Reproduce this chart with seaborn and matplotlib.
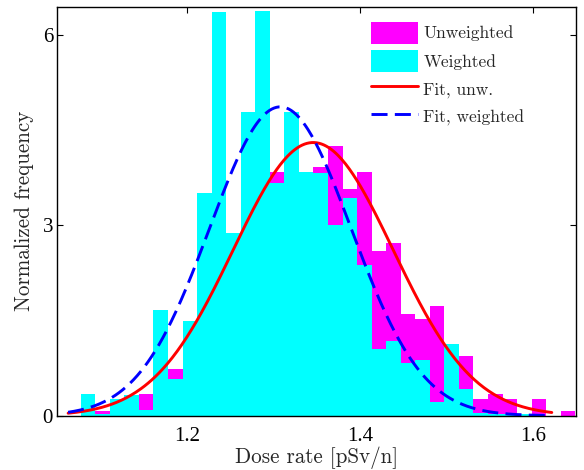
import numpy as np
import pandas as pd
import seaborn as sns
import matplotlib
matplotlib.use("Agg")
import matplotlib.pyplot as plt
from matplotlib.patches import Patch
from matplotlib.lines import Line2D

# ---- data ----
bin_start = 1.0771
bin_width = 0.016825
unweighted = [0.00, 0.074, 0.27, 0.15, 0.34, 0.60, 0.74, 1.20, 2.00, 3.00,
              2.30, 3.30, 3.50, 3.85, 3.60, 3.70, 3.92, 4.25, 3.58, 3.85,
              2.59, 2.72, 1.60, 1.53, 1.73, 0.90, 0.94, 0.26, 0.34, 0.26,
              0.00, 0.26, 0.00, 0.07]
weighted = [0.35, 0.03, 0.26, 0.33, 0.095, 1.66, 0.58, 1.50, 3.51, 6.36,
            2.88, 4.79, 6.39, 3.67, 4.79, 3.85, 3.82, 3.01, 3.44, 2.38,
            1.05, 1.18, 0.83, 0.88, 0.21, 1.13, 0.42, 0.05, 0.03, 0.02,
            0.02, 0.00, 0.00, 0.00]
fit_mu_unw, fit_sigma_unw = 1.346, 0.0926
fit_mu_w, fit_sigma_w = 1.308, 0.0819
fit_range = (1.0625, 1.622)
labels = ["Unweighted", "Weighted", "Fit, unw.", "Fit, weighted"]
x_ticks = [1.2, 1.4, 1.6]
y_ticks = [0, 3, 6]
x_label = "Dose rate [pSv/n]"
y_label = "Normalized frequency"

# ---- derived tables ----
nb = len(unweighted)
edges = (bin_start + bin_width * np.arange(nb + 1)).tolist()
centers = [0.5 * (edges[i] + edges[i + 1]) for i in range(nb)]
hist_df = pd.DataFrame({"x": centers, "unw": unweighted, "w": weighted})

xf = np.linspace(fit_range[0], fit_range[1], 400)
def gauss(x, mu, s):
    return np.exp(-0.5 * ((x - mu) / s) ** 2) / (s * np.sqrt(2 * np.pi))
fit_df = pd.DataFrame({"x": xf,
                       "unw": gauss(xf, fit_mu_unw, fit_sigma_unw),
                       "w": gauss(xf, fit_mu_w, fit_sigma_w)})

sns.set_style("ticks")
plt.rcParams["font.family"] = ["Liberation Serif", "DejaVu Serif"]

fig = plt.figure(figsize=(5.84, 4.70), dpi=100)
ax = fig.add_axes([0.0981, 0.1155, 0.9863 - 0.0981, 0.9857 - 0.1155])

sns.histplot(data=hist_df, x="x", weights="unw", bins=edges, stat="count",
             color="#FF00FF", alpha=1, linewidth=0, edgecolor="none", ax=ax)
sns.histplot(data=hist_df, x="x", weights="w", bins=edges, stat="count",
             color="#00FFFF", alpha=1, linewidth=0, edgecolor="none", ax=ax)
sns.lineplot(data=fit_df, x="x", y="unw", color="#FF0000", linewidth=2.1, ax=ax)
sns.lineplot(data=fit_df, x="x", y="w", color="#0000FF", linewidth=2.1, ax=ax)
ax.lines[-1].set_linestyle((0, (5.5, 2.5)))

ax.set_xlim(1.05, 1.65)
ax.set_ylim(0, 6.45)
ax.set_xticks(x_ticks)
ax.set_yticks(y_ticks)
ax.set_xticklabels([f"{t:.1f}" for t in x_ticks])
ax.set_yticklabels([str(t) for t in y_ticks])
ax.tick_params(direction="in", top=True, right=True, length=4, width=0.8,
               labelsize=15, colors="black")
ax.tick_params(axis="x", pad=8)
ax.tick_params(axis="y", pad=3)
for sp in ax.spines.values():
    sp.set_visible(True)
    sp.set_linewidth(1.0)
    sp.set_color("black")

ax.set_xlabel(x_label, fontsize=15.2, family="cmr10", labelpad=0.5)
ax.set_ylabel(y_label, fontsize=15.2, family="cmr10", labelpad=6)

handles = [Patch(facecolor="#FF00FF", edgecolor="none"),
           Patch(facecolor="#00FFFF", edgecolor="none"),
           Line2D([], [], color="#FF0000", linewidth=2.1),
           Line2D([], [], color="#0000FF", linewidth=2.1, linestyle=(0, (5.5, 2.5)))]
leg = ax.legend(handles, labels, loc="upper left", bbox_to_anchor=(0.605, 0.963),
                frameon=False, borderpad=0, borderaxespad=0,
                handlelength=2.7, handleheight=1.545, handletextpad=0.3,
                labelspacing=0.37, prop={"family": "cmr10", "size": 12.5})

fig.savefig("out.png", dpi=100)
